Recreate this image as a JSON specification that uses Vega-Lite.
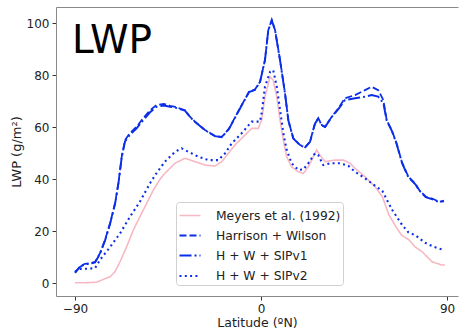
{
  "$schema": "https://vega.github.io/schema/vega-lite/v6.json",
  "width": 402,
  "height": 289,
  "autosize": {"type": "none"},
  "padding": {"left": 56, "top": 7, "right": 1, "bottom": 37},
  "background": "white",
  "config": {
    "view": {"stroke": null},
    "font": "DejaVu Sans",
    "axis": {"labelFont": "DejaVu Sans", "titleFont": "DejaVu Sans", "labelColor": "#222", "titleColor": "#222", "titleFontWeight": "normal", "grid": false, "domainColor": "#888", "tickColor": "#333", "tickSize": 4, "labelFontSize": 12, "titleFontSize": 12.5},
    "legend": {"labelFont": "DejaVu Sans", "labelFontSize": 12.3, "labelColor": "#222"}
  },
  "datasets": {
    "curves": [
      {"s": "Meyers et al. (1992)", "lat": -90, "v": 0.2},
      {"s": "Meyers et al. (1992)", "lat": -85, "v": 0.2},
      {"s": "Meyers et al. (1992)", "lat": -79.5, "v": 0.4},
      {"s": "Meyers et al. (1992)", "lat": -76.3, "v": 1.5},
      {"s": "Meyers et al. (1992)", "lat": -73, "v": 2.5},
      {"s": "Meyers et al. (1992)", "lat": -70.6, "v": 4.5},
      {"s": "Meyers et al. (1992)", "lat": -68.2, "v": 8.3},
      {"s": "Meyers et al. (1992)", "lat": -65, "v": 14.1},
      {"s": "Meyers et al. (1992)", "lat": -61.8, "v": 20.5},
      {"s": "Meyers et al. (1992)", "lat": -58.6, "v": 25.6},
      {"s": "Meyers et al. (1992)", "lat": -55.3, "v": 30.8},
      {"s": "Meyers et al. (1992)", "lat": -52.1, "v": 35.9},
      {"s": "Meyers et al. (1992)", "lat": -48.9, "v": 40},
      {"s": "Meyers et al. (1992)", "lat": -46.5, "v": 42.3},
      {"s": "Meyers et al. (1992)", "lat": -41.6, "v": 46.2},
      {"s": "Meyers et al. (1992)", "lat": -36.8, "v": 48.1},
      {"s": "Meyers et al. (1992)", "lat": -32, "v": 46.8},
      {"s": "Meyers et al. (1992)", "lat": -27.1, "v": 45.5},
      {"s": "Meyers et al. (1992)", "lat": -22.3, "v": 45.1},
      {"s": "Meyers et al. (1992)", "lat": -19, "v": 46.8},
      {"s": "Meyers et al. (1992)", "lat": -15.8, "v": 50},
      {"s": "Meyers et al. (1992)", "lat": -12.6, "v": 53.2},
      {"s": "Meyers et al. (1992)", "lat": -8.6, "v": 56.4},
      {"s": "Meyers et al. (1992)", "lat": -4.5, "v": 59.6},
      {"s": "Meyers et al. (1992)", "lat": -1.3, "v": 59.6},
      {"s": "Meyers et al. (1992)", "lat": 0.3, "v": 62.8},
      {"s": "Meyers et al. (1992)", "lat": 1.9, "v": 71.8},
      {"s": "Meyers et al. (1992)", "lat": 4.4, "v": 79.5},
      {"s": "Meyers et al. (1992)", "lat": 5.9, "v": 78.2},
      {"s": "Meyers et al. (1992)", "lat": 7.6, "v": 71.8},
      {"s": "Meyers et al. (1992)", "lat": 9.2, "v": 62.8},
      {"s": "Meyers et al. (1992)", "lat": 10.8, "v": 55.1},
      {"s": "Meyers et al. (1992)", "lat": 12.4, "v": 48.7},
      {"s": "Meyers et al. (1992)", "lat": 14.8, "v": 44.8},
      {"s": "Meyers et al. (1992)", "lat": 18, "v": 42.9},
      {"s": "Meyers et al. (1992)", "lat": 20.5, "v": 42.3},
      {"s": "Meyers et al. (1992)", "lat": 22.9, "v": 44.8},
      {"s": "Meyers et al. (1992)", "lat": 25.3, "v": 48.7},
      {"s": "Meyers et al. (1992)", "lat": 26.9, "v": 51.3},
      {"s": "Meyers et al. (1992)", "lat": 28.5, "v": 49.3},
      {"s": "Meyers et al. (1992)", "lat": 31, "v": 46.8},
      {"s": "Meyers et al. (1992)", "lat": 35.8, "v": 47.4},
      {"s": "Meyers et al. (1992)", "lat": 39.8, "v": 47.4},
      {"s": "Meyers et al. (1992)", "lat": 43, "v": 46.2},
      {"s": "Meyers et al. (1992)", "lat": 45.5, "v": 44.2},
      {"s": "Meyers et al. (1992)", "lat": 50.3, "v": 41},
      {"s": "Meyers et al. (1992)", "lat": 55.1, "v": 37.2},
      {"s": "Meyers et al. (1992)", "lat": 58.7, "v": 33.3},
      {"s": "Meyers et al. (1992)", "lat": 61.9, "v": 26.3},
      {"s": "Meyers et al. (1992)", "lat": 65.2, "v": 21.8},
      {"s": "Meyers et al. (1992)", "lat": 68, "v": 18.5},
      {"s": "Meyers et al. (1992)", "lat": 71.6, "v": 16.7},
      {"s": "Meyers et al. (1992)", "lat": 74.5, "v": 14},
      {"s": "Meyers et al. (1992)", "lat": 77.9, "v": 12.2},
      {"s": "Meyers et al. (1992)", "lat": 82.7, "v": 8.3},
      {"s": "Meyers et al. (1992)", "lat": 87.5, "v": 7},
      {"s": "Meyers et al. (1992)", "lat": 89, "v": 7},

      {"s": "Harrison + Wilson", "lat": -90, "v": 4.2},
      {"s": "Harrison + Wilson", "lat": -87.6, "v": 6.5},
      {"s": "Harrison + Wilson", "lat": -85.2, "v": 7.5},
      {"s": "Harrison + Wilson", "lat": -82.7, "v": 7.7},
      {"s": "Harrison + Wilson", "lat": -80.3, "v": 8.2},
      {"s": "Harrison + Wilson", "lat": -77.9, "v": 11.6},
      {"s": "Harrison + Wilson", "lat": -75.5, "v": 16.6},
      {"s": "Harrison + Wilson", "lat": -73, "v": 23.2},
      {"s": "Harrison + Wilson", "lat": -70.6, "v": 30.9},
      {"s": "Harrison + Wilson", "lat": -69, "v": 38.6},
      {"s": "Harrison + Wilson", "lat": -67.4, "v": 48.7},
      {"s": "Harrison + Wilson", "lat": -65.8, "v": 55.1},
      {"s": "Harrison + Wilson", "lat": -63.4, "v": 57.8},
      {"s": "Harrison + Wilson", "lat": -60.2, "v": 60.2},
      {"s": "Harrison + Wilson", "lat": -57, "v": 63.5},
      {"s": "Harrison + Wilson", "lat": -53.7, "v": 66.6},
      {"s": "Harrison + Wilson", "lat": -50.5, "v": 68.6},
      {"s": "Harrison + Wilson", "lat": -47, "v": 69},
      {"s": "Harrison + Wilson", "lat": -44, "v": 68.3},
      {"s": "Harrison + Wilson", "lat": -41.6, "v": 67.9},
      {"s": "Harrison + Wilson", "lat": -36.8, "v": 66.6},
      {"s": "Harrison + Wilson", "lat": -34.4, "v": 64.1},
      {"s": "Harrison + Wilson", "lat": -32, "v": 62.2},
      {"s": "Harrison + Wilson", "lat": -27.1, "v": 59},
      {"s": "Harrison + Wilson", "lat": -22.3, "v": 56.7},
      {"s": "Harrison + Wilson", "lat": -19, "v": 56.3},
      {"s": "Harrison + Wilson", "lat": -15.5, "v": 59.5},
      {"s": "Harrison + Wilson", "lat": -10.7, "v": 66.6},
      {"s": "Harrison + Wilson", "lat": -5.8, "v": 73.7},
      {"s": "Harrison + Wilson", "lat": -3, "v": 74.5},
      {"s": "Harrison + Wilson", "lat": -0.5, "v": 77.5},
      {"s": "Harrison + Wilson", "lat": 1.9, "v": 85.9},
      {"s": "Harrison + Wilson", "lat": 3.5, "v": 97.4},
      {"s": "Harrison + Wilson", "lat": 5.2, "v": 101.3},
      {"s": "Harrison + Wilson", "lat": 6.8, "v": 97.4},
      {"s": "Harrison + Wilson", "lat": 9.2, "v": 85.9},
      {"s": "Harrison + Wilson", "lat": 11.6, "v": 73.1},
      {"s": "Harrison + Wilson", "lat": 13.2, "v": 62.8},
      {"s": "Harrison + Wilson", "lat": 15.6, "v": 55.8},
      {"s": "Harrison + Wilson", "lat": 18.9, "v": 53.2},
      {"s": "Harrison + Wilson", "lat": 21.3, "v": 52.3},
      {"s": "Harrison + Wilson", "lat": 23.7, "v": 54.5},
      {"s": "Harrison + Wilson", "lat": 26.1, "v": 61.5},
      {"s": "Harrison + Wilson", "lat": 27.7, "v": 63.5},
      {"s": "Harrison + Wilson", "lat": 29.4, "v": 60.9},
      {"s": "Harrison + Wilson", "lat": 31, "v": 60.2},
      {"s": "Harrison + Wilson", "lat": 34.2, "v": 64.1},
      {"s": "Harrison + Wilson", "lat": 37.4, "v": 67.3},
      {"s": "Harrison + Wilson", "lat": 40.6, "v": 71.2},
      {"s": "Harrison + Wilson", "lat": 45.5, "v": 72.4},
      {"s": "Harrison + Wilson", "lat": 50.3, "v": 74.3},
      {"s": "Harrison + Wilson", "lat": 53.5, "v": 75.6},
      {"s": "Harrison + Wilson", "lat": 56.7, "v": 74.3},
      {"s": "Harrison + Wilson", "lat": 59.2, "v": 70.5},
      {"s": "Harrison + Wilson", "lat": 60.8, "v": 62.8},
      {"s": "Harrison + Wilson", "lat": 63.2, "v": 59},
      {"s": "Harrison + Wilson", "lat": 65.6, "v": 53.8},
      {"s": "Harrison + Wilson", "lat": 68.2, "v": 46.5},
      {"s": "Harrison + Wilson", "lat": 71.3, "v": 41},
      {"s": "Harrison + Wilson", "lat": 74.8, "v": 38.2},
      {"s": "Harrison + Wilson", "lat": 76.5, "v": 35.9},
      {"s": "Harrison + Wilson", "lat": 79.7, "v": 33.3},
      {"s": "Harrison + Wilson", "lat": 83, "v": 32.5},
      {"s": "Harrison + Wilson", "lat": 86.1, "v": 31.4},
      {"s": "Harrison + Wilson", "lat": 88.5, "v": 31.5},

      {"s": "H + W + SIPv1", "lat": -90, "v": 4},
      {"s": "H + W + SIPv1", "lat": -87.6, "v": 6.3},
      {"s": "H + W + SIPv1", "lat": -85.2, "v": 7.3},
      {"s": "H + W + SIPv1", "lat": -82.7, "v": 7.5},
      {"s": "H + W + SIPv1", "lat": -80.3, "v": 8},
      {"s": "H + W + SIPv1", "lat": -77.9, "v": 11.4},
      {"s": "H + W + SIPv1", "lat": -75.5, "v": 16.4},
      {"s": "H + W + SIPv1", "lat": -73, "v": 23},
      {"s": "H + W + SIPv1", "lat": -70.6, "v": 30.7},
      {"s": "H + W + SIPv1", "lat": -69, "v": 38.4},
      {"s": "H + W + SIPv1", "lat": -67.4, "v": 48.5},
      {"s": "H + W + SIPv1", "lat": -65.8, "v": 54.6},
      {"s": "H + W + SIPv1", "lat": -63.4, "v": 57.2},
      {"s": "H + W + SIPv1", "lat": -60.2, "v": 59.6},
      {"s": "H + W + SIPv1", "lat": -57, "v": 62.8},
      {"s": "H + W + SIPv1", "lat": -53.7, "v": 65.8},
      {"s": "H + W + SIPv1", "lat": -50.5, "v": 67.9},
      {"s": "H + W + SIPv1", "lat": -47, "v": 68.4},
      {"s": "H + W + SIPv1", "lat": -44, "v": 67.9},
      {"s": "H + W + SIPv1", "lat": -41.6, "v": 67.6},
      {"s": "H + W + SIPv1", "lat": -36.8, "v": 66.4},
      {"s": "H + W + SIPv1", "lat": -34.4, "v": 64},
      {"s": "H + W + SIPv1", "lat": -32, "v": 62.1},
      {"s": "H + W + SIPv1", "lat": -27.1, "v": 58.9},
      {"s": "H + W + SIPv1", "lat": -22.3, "v": 56.6},
      {"s": "H + W + SIPv1", "lat": -19, "v": 56.2},
      {"s": "H + W + SIPv1", "lat": -15.5, "v": 59.4},
      {"s": "H + W + SIPv1", "lat": -10.7, "v": 66.5},
      {"s": "H + W + SIPv1", "lat": -5.8, "v": 73.6},
      {"s": "H + W + SIPv1", "lat": -3, "v": 74.4},
      {"s": "H + W + SIPv1", "lat": -0.5, "v": 77.4},
      {"s": "H + W + SIPv1", "lat": 1.9, "v": 85.8},
      {"s": "H + W + SIPv1", "lat": 3.5, "v": 97.3},
      {"s": "H + W + SIPv1", "lat": 5.2, "v": 101.2},
      {"s": "H + W + SIPv1", "lat": 6.8, "v": 97.3},
      {"s": "H + W + SIPv1", "lat": 9.2, "v": 85.8},
      {"s": "H + W + SIPv1", "lat": 11.6, "v": 73},
      {"s": "H + W + SIPv1", "lat": 13.2, "v": 62.7},
      {"s": "H + W + SIPv1", "lat": 15.6, "v": 55.7},
      {"s": "H + W + SIPv1", "lat": 18.9, "v": 53.1},
      {"s": "H + W + SIPv1", "lat": 21.3, "v": 52.2},
      {"s": "H + W + SIPv1", "lat": 23.7, "v": 54.4},
      {"s": "H + W + SIPv1", "lat": 26.1, "v": 61.4},
      {"s": "H + W + SIPv1", "lat": 27.7, "v": 63.4},
      {"s": "H + W + SIPv1", "lat": 29.4, "v": 60.8},
      {"s": "H + W + SIPv1", "lat": 31, "v": 60.1},
      {"s": "H + W + SIPv1", "lat": 34.2, "v": 64},
      {"s": "H + W + SIPv1", "lat": 37.4, "v": 67},
      {"s": "H + W + SIPv1", "lat": 40.6, "v": 70.5},
      {"s": "H + W + SIPv1", "lat": 45.5, "v": 71.2},
      {"s": "H + W + SIPv1", "lat": 50.3, "v": 71.8},
      {"s": "H + W + SIPv1", "lat": 53.5, "v": 72.4},
      {"s": "H + W + SIPv1", "lat": 56.7, "v": 71.8},
      {"s": "H + W + SIPv1", "lat": 59.2, "v": 69.3},
      {"s": "H + W + SIPv1", "lat": 60.8, "v": 62.6},
      {"s": "H + W + SIPv1", "lat": 63.2, "v": 58.8},
      {"s": "H + W + SIPv1", "lat": 65.6, "v": 53.6},
      {"s": "H + W + SIPv1", "lat": 68.2, "v": 46.3},
      {"s": "H + W + SIPv1", "lat": 71.3, "v": 40.8},
      {"s": "H + W + SIPv1", "lat": 74.8, "v": 38},
      {"s": "H + W + SIPv1", "lat": 76.5, "v": 35.7},
      {"s": "H + W + SIPv1", "lat": 79.7, "v": 33.1},
      {"s": "H + W + SIPv1", "lat": 83, "v": 32.3},
      {"s": "H + W + SIPv1", "lat": 86.1, "v": 31.2},
      {"s": "H + W + SIPv1", "lat": 88.5, "v": 31.8},

      {"s": "H + W + SIPv2", "lat": -90, "v": 4.5},
      {"s": "H + W + SIPv2", "lat": -87.6, "v": 5.5},
      {"s": "H + W + SIPv2", "lat": -84, "v": 5.6},
      {"s": "H + W + SIPv2", "lat": -80.3, "v": 5.8},
      {"s": "H + W + SIPv2", "lat": -77.9, "v": 9},
      {"s": "H + W + SIPv2", "lat": -73, "v": 14},
      {"s": "H + W + SIPv2", "lat": -68.2, "v": 19.2},
      {"s": "H + W + SIPv2", "lat": -63.4, "v": 25.6},
      {"s": "H + W + SIPv2", "lat": -58.6, "v": 31.4},
      {"s": "H + W + SIPv2", "lat": -53.7, "v": 38.5},
      {"s": "H + W + SIPv2", "lat": -51.3, "v": 41.5},
      {"s": "H + W + SIPv2", "lat": -48.9, "v": 44.2},
      {"s": "H + W + SIPv2", "lat": -46.5, "v": 46.8},
      {"s": "H + W + SIPv2", "lat": -41.6, "v": 50.6},
      {"s": "H + W + SIPv2", "lat": -38.4, "v": 51.9},
      {"s": "H + W + SIPv2", "lat": -35.2, "v": 50.6},
      {"s": "H + W + SIPv2", "lat": -30.3, "v": 48.7},
      {"s": "H + W + SIPv2", "lat": -25.5, "v": 47.4},
      {"s": "H + W + SIPv2", "lat": -20.7, "v": 47.4},
      {"s": "H + W + SIPv2", "lat": -17.4, "v": 50},
      {"s": "H + W + SIPv2", "lat": -14.2, "v": 53.8},
      {"s": "H + W + SIPv2", "lat": -9.4, "v": 57.7},
      {"s": "H + W + SIPv2", "lat": -4.5, "v": 62.2},
      {"s": "H + W + SIPv2", "lat": -0.5, "v": 62.2},
      {"s": "H + W + SIPv2", "lat": 0.3, "v": 65.4},
      {"s": "H + W + SIPv2", "lat": 1.9, "v": 75.6},
      {"s": "H + W + SIPv2", "lat": 4.4, "v": 81.4},
      {"s": "H + W + SIPv2", "lat": 5.9, "v": 82},
      {"s": "H + W + SIPv2", "lat": 7.6, "v": 75.6},
      {"s": "H + W + SIPv2", "lat": 9.2, "v": 66.7},
      {"s": "H + W + SIPv2", "lat": 10.8, "v": 57.7},
      {"s": "H + W + SIPv2", "lat": 12.4, "v": 51.3},
      {"s": "H + W + SIPv2", "lat": 14.8, "v": 46.2},
      {"s": "H + W + SIPv2", "lat": 18, "v": 43.6},
      {"s": "H + W + SIPv2", "lat": 20.5, "v": 43.8},
      {"s": "H + W + SIPv2", "lat": 22.9, "v": 46.2},
      {"s": "H + W + SIPv2", "lat": 26.1, "v": 50},
      {"s": "H + W + SIPv2", "lat": 27.7, "v": 49.3},
      {"s": "H + W + SIPv2", "lat": 30.1, "v": 45.5},
      {"s": "H + W + SIPv2", "lat": 33.4, "v": 46.2},
      {"s": "H + W + SIPv2", "lat": 38.2, "v": 46.2},
      {"s": "H + W + SIPv2", "lat": 42.2, "v": 45.2},
      {"s": "H + W + SIPv2", "lat": 45.5, "v": 42.9},
      {"s": "H + W + SIPv2", "lat": 50.3, "v": 40.4},
      {"s": "H + W + SIPv2", "lat": 54.3, "v": 38},
      {"s": "H + W + SIPv2", "lat": 58.7, "v": 35.5},
      {"s": "H + W + SIPv2", "lat": 61.6, "v": 31},
      {"s": "H + W + SIPv2", "lat": 63.5, "v": 28.2},
      {"s": "H + W + SIPv2", "lat": 68.3, "v": 22.4},
      {"s": "H + W + SIPv2", "lat": 71.3, "v": 19.6},
      {"s": "H + W + SIPv2", "lat": 74.8, "v": 18.4},
      {"s": "H + W + SIPv2", "lat": 79.3, "v": 15.6},
      {"s": "H + W + SIPv2", "lat": 83.3, "v": 14.1},
      {"s": "H + W + SIPv2", "lat": 88.5, "v": 12.8}
    ],
    "label": [{"lat": -91.5, "v": 88.5, "t": "LWP"}]
  },
  "resolve": {"axis": {"x": "independent"}},
  "layer": [
    {
      "data": {"name": "curves"},
      "mark": {"type": "line", "interpolate": "linear"},
      "encoding": {
        "x": {"field": "lat", "type": "quantitative", "scale": {"domain": [-99.2, 95.3], "nice": false, "zero": false},
          "axis": {"values": [-90, 0, 90], "title": "Latitude (ºN)", "labelPadding": 3, "titlePadding": 2}},
        "y": {"field": "v", "type": "quantitative", "scale": {"domain": [-4.9, 106.3], "nice": false, "zero": false},
          "axis": {"values": [0, 20, 40, 60, 80, 100], "title": "LWP (g/m²)", "labelPadding": 3, "titlePadding": 3, "titleFontSize": 13}},
        "color": {"field": "s", "type": "nominal", "title": null,
          "scale": {"domain": ["Meyers et al. (1992)", "Harrison + Wilson", "H + W + SIPv1", "H + W + SIPv2"], "range": ["#f7b8c3", "#0b2ee8", "#0b2ee8", "#0b2ee8"]},
          "legend": {"orient": "none", "legendX": 120, "legendY": 195, "fillColor": "white", "strokeColor": "#d0d0d0", "cornerRadius": 3, "padding": 2, "symbolType": "stroke", "symbolSize": 441, "symbolStrokeWidth": 2, "labelOffset": 14, "rowPadding": 2, "labelLimit": 300}},
        "strokeDash": {"field": "s", "type": "nominal", "title": null,
          "scale": {"domain": ["Meyers et al. (1992)", "Harrison + Wilson", "H + W + SIPv1", "H + W + SIPv2"], "range": [[1, 0], [7, 3], [12, 3, 2, 3], [2, 3.3]]}},
        "strokeWidth": {"field": "s", "type": "nominal", "legend": null,
          "scale": {"domain": ["Meyers et al. (1992)", "Harrison + Wilson", "H + W + SIPv1", "H + W + SIPv2"], "range": [1.6, 2.1, 2.1, 2.1]}}
      }
    },
    {
      "data": {"name": "label"},
      "mark": {"type": "text", "align": "left", "baseline": "alphabetic", "fontSize": 39, "font": "DejaVu Sans", "color": "black"},
      "encoding": {
        "x": {"field": "lat", "type": "quantitative", "axis": {"orient": "top", "labels": false, "ticks": false, "title": null}},
        "y": {"field": "v", "type": "quantitative"},
        "text": {"field": "t"}
      }
    }
  ]
}
